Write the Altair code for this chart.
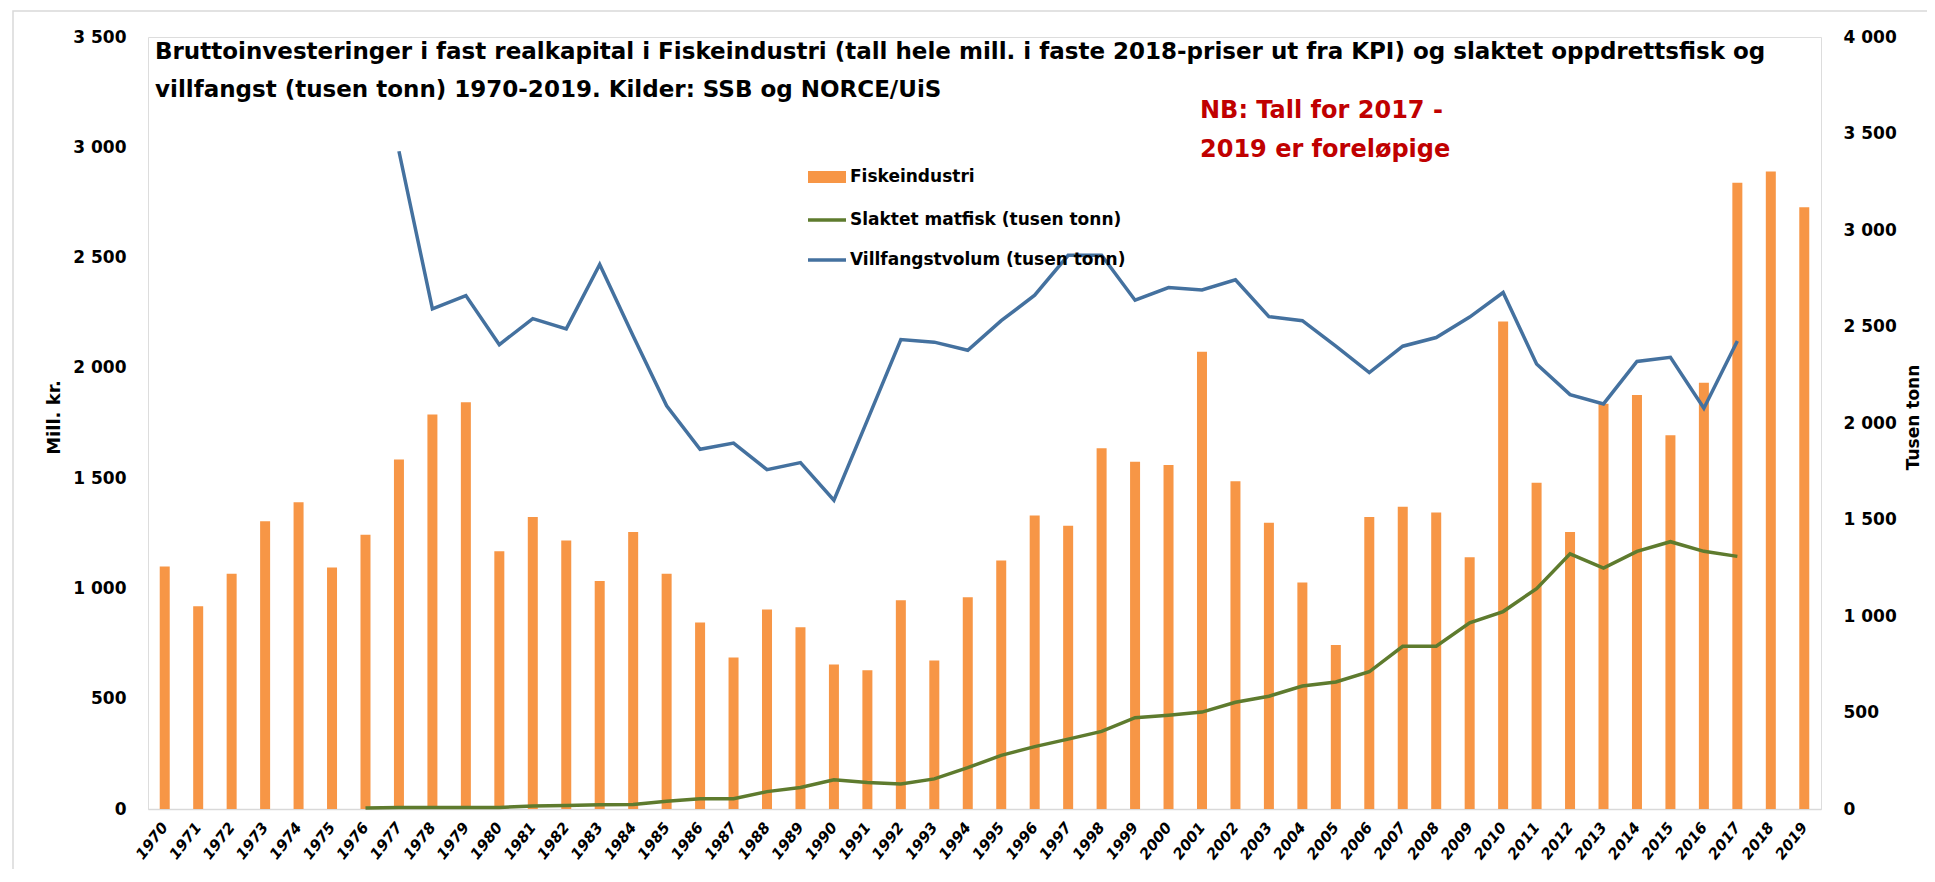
import altair as alt
import pandas as pd

years = list(range(1970, 2020))
fiskeindustri = [1099, 919, 1067, 1305, 1391, 1095, 1243, 1585, 1789, 1844,
                 1169, 1324, 1217, 1034, 1256, 1067, 845, 687, 905, 824,
                 655, 629, 946, 673, 960, 1127, 1331, 1284, 1636, 1574,
                 1560, 2073, 1486, 1298, 1027, 743, 1324, 1370, 1344, 1141,
                 2210, 1479, 1256, 1837, 1877, 1694, 1932, 2839, 2890, 2728]
slaktet_years = list(range(1976, 2018))
slaktet = [5, 8, 8, 8, 8, 16, 18, 22, 23, 40,
           53, 53, 90, 111, 151, 137, 130, 156, 214, 278,
           323, 362, 402, 473, 486, 502, 553, 584, 637, 658,
           711, 843, 843, 965, 1023, 1142, 1322, 1248, 1335, 1385,
           1335, 1309]
vill_years = list(range(1977, 2018))
villfangst = [3408, 2591, 2660, 2406, 2541, 2488, 2821, 2451, 2089, 1864,
              1896, 1758, 1795, 1600, 2015, 2432, 2419, 2377, 2530, 2662,
              2869, 2869, 2636, 2702, 2689, 2742, 2551, 2530, 2398, 2261,
              2398, 2443, 2549, 2676, 2306, 2147, 2099, 2319, 2340, 2076,
              2425]

S_BAR = "Fiskeindustri"
S_GREEN = "Slaktet matfisk (tusen tonn)"
S_BLUE = "Villfangstvolum (tusen tonn)"
title_lines = [
    "Bruttoinvesteringer  i fast realkapital  i Fiskeindustri  (tall hele mill. i faste 2018-priser ut fra KPI) og slaktet oppdrettsfisk  og",
    "villfangst  (tusen tonn)  1970-2019. Kilder:  SSB og NORCE/UiS",
]
nb_lines = ["NB: Tall for 2017 -", "2019 er foreløpige"]

ORANGE = "#F79646"
GREEN = "#5E7B2E"
BLUE = "#44719F"
AXFONT = "DejaVu Sans"
TXFONT = "DejaVu Sans"

bar_df = pd.DataFrame({"year": years, "value": fiskeindustri})
line_df = pd.concat([
    pd.DataFrame({"year": slaktet_years, "value": slaktet, "series": S_GREEN}),
    pd.DataFrame({"year": vill_years, "value": villfangst, "series": S_BLUE}),
])

fmt = "replace(format(datum.value, ',d'), ',', ' ')"

x_enc = alt.X(
    "year:O",
    title=None,
    scale=alt.Scale(domain=years),
    axis=alt.Axis(
        labelAngle=308, labelFont=AXFONT, labelFontWeight="bold",
        labelFontStyle="italic", labelFontSize=15, labelColor="#000000",
        labelPadding=15, ticks=False, domainColor="#d9d9d9", domainWidth=1.5,
    ),
)

bars = alt.Chart(bar_df).mark_bar(color=ORANGE, size=10).encode(
    x=x_enc,
    y=alt.Y(
        "value:Q",
        scale=alt.Scale(domain=[0, 3500], nice=False),
        axis=alt.Axis(
            values=list(range(0, 3501, 500)), labelExpr=fmt, grid=False,
            domain=False, ticks=False, labelFont=AXFONT, labelFontWeight="bold",
            labelFontSize=17, labelColor="#000000", labelPadding=22,
            title="Mill. kr.", titleFont=AXFONT, titleFontWeight="bold",
            titleFontSize=18, titleColor="#000000", titleAngle=270,
            titleX=-94, titleY=380, titleAlign="center", titleBaseline="middle",
        ),
    ),
)

lines = alt.Chart(line_df).mark_line(strokeWidth=3.5).encode(
    x=x_enc,
    y=alt.Y(
        "value:Q",
        scale=alt.Scale(domain=[0, 4000], nice=False),
        axis=alt.Axis(
            orient="right", values=list(range(0, 4001, 500)), labelExpr=fmt,
            grid=False, domain=False, ticks=False, labelFont=AXFONT,
            labelFontWeight="bold", labelFontSize=17, labelColor="#000000",
            labelPadding=22, title="Tusen tonn", titleFont=AXFONT,
            titleFontWeight="bold", titleFontSize=17, titleColor="#000000",
            titleAngle=270, titleX=92, titleY=380, titleAlign="center",
            titleBaseline="middle",
        ),
    ),
    color=alt.Color("series:N", scale=alt.Scale(domain=[S_GREEN, S_BLUE], range=[GREEN, BLUE]), legend=None),
    detail="series:N",
)

def txt(s, x, y, size, color="#000000", font=TXFONT):
    return alt.Chart(bar_df.head(1)).mark_text(
        align="left", baseline="middle", font=font, fontWeight="bold",
        fontSize=size, color=color, text=s,
    ).encode(x=alt.value(x), y=alt.value(y))

border = alt.Chart(bar_df.head(1)).mark_rect(
    fillOpacity=0, stroke="#d9d9d9", strokeWidth=1.5
).encode(x=alt.value(-135), x2=alt.value(1850), y=alt.value(-26), y2=alt.value(900))

title1 = txt(title_lines[0], 7, 15, 23)
title2 = txt(title_lines[1], 7, 53, 23)
nb1 = txt(nb_lines[0], 1052, 74, 24, color="#C00000")
nb2 = txt(nb_lines[1], 1052, 113, 24, color="#C00000")

leg_rect = alt.Chart(bar_df.head(1)).mark_rect(color=ORANGE).encode(
    x=alt.value(660), x2=alt.value(698), y=alt.value(134), y2=alt.value(146))
leg_green = alt.Chart(bar_df.head(1)).mark_rule(color=GREEN, strokeWidth=3.5).encode(
    x=alt.value(660), x2=alt.value(698), y=alt.value(183))
leg_blue = alt.Chart(bar_df.head(1)).mark_rule(color=BLUE, strokeWidth=3.5).encode(
    x=alt.value(660), x2=alt.value(698), y=alt.value(223))
leg_t1 = txt(S_BAR, 702, 140, 17)
leg_t2 = txt(S_GREEN, 702, 183, 17)
leg_t3 = txt(S_BLUE, 702, 223, 17)

chart = alt.layer(
    border, bars, lines, title1, title2, nb1, nb2,
    leg_rect, leg_green, leg_blue, leg_t1, leg_t2, leg_t3,
).resolve_scale(y="independent").properties(
    width=1673, height=772,
    autosize=alt.AutoSizeParams(type="none"),
    padding={"left": 140, "top": 29, "right": 106, "bottom": 60},
).configure_view(stroke=None).configure(background="#ffffff")

chart.save("out.html", embed_options={"renderer": "svg", "actions": False})
